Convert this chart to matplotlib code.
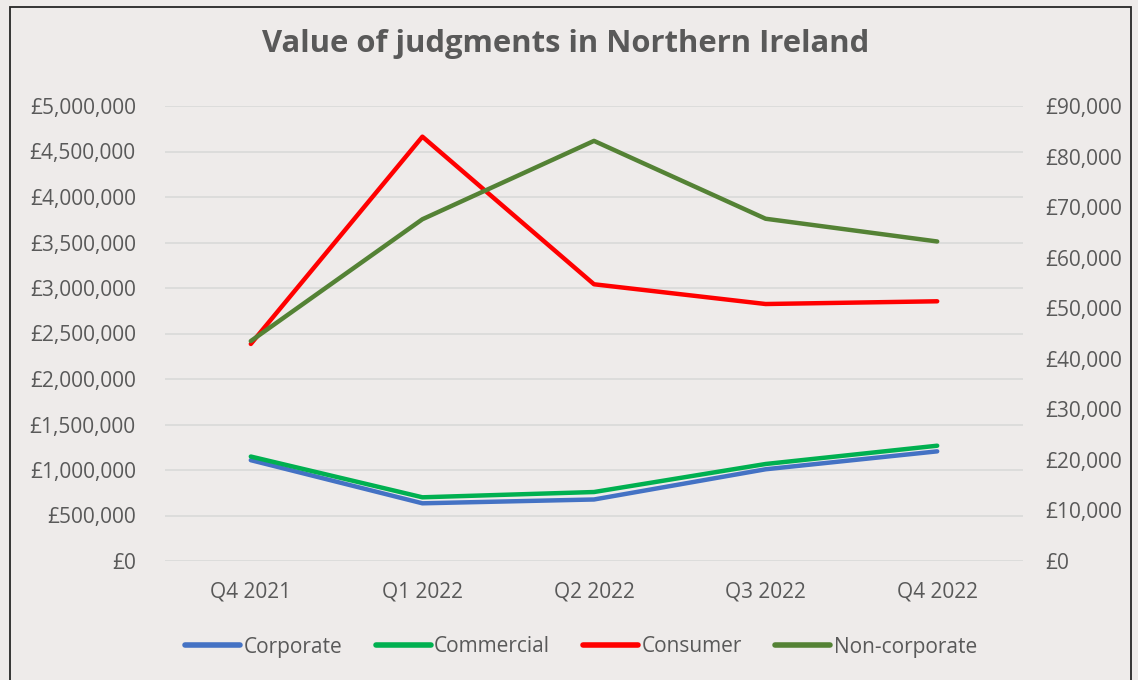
import matplotlib
matplotlib.use("Agg")
import matplotlib.pyplot as plt
from matplotlib.ticker import FuncFormatter, MultipleLocator
from matplotlib.patches import Rectangle

quarters = ["Q4 2021", "Q1 2022", "Q2 2022", "Q3 2022", "Q4 2022"]
corporate = [1108000, 634000, 676000, 1008000, 1205000]
commercial = [1148000, 700000, 758000, 1066000, 1267000]
consumer = [2385000, 4663000, 3041000, 2824000, 2854000]
non_corporate = [43500, 67600, 83100, 67700, 63200]  # secondary axis

BG = "#EEEBEA"
TXT = "#595959"
GRID = "#D9D9D9"
FONT = "Open Sans"

plt.rcParams["font.family"] = [FONT, "DejaVu Sans"]

fig = plt.figure(figsize=(11.38, 6.8), dpi=100, facecolor=BG)
ax = fig.add_axes([165/1138, 1-561/680, (1023-165)/1138, (561-106)/680])
ax.set_facecolor(BG)
ax2 = ax.twinx()

x = list(range(len(quarters)))
lw = 3.2
l1, = ax.plot(x, corporate, color="#4472C4", lw=lw, solid_capstyle="round", solid_joinstyle="round", label="Corporate")
l2, = ax.plot(x, commercial, color="#00B050", lw=lw, solid_capstyle="round", solid_joinstyle="round", label="Commercial")
l3, = ax.plot(x, consumer, color="#FF0000", lw=lw, solid_capstyle="round", solid_joinstyle="round", label="Consumer")
l4, = ax2.plot(x, non_corporate, color="#548235", lw=lw, solid_capstyle="round", solid_joinstyle="round", label="Non-corporate")

ax.set_xlim(-0.5, len(quarters) - 0.5)
ax.set_ylim(0, 5000000)
ax2.set_ylim(0, 90000)
ax.yaxis.set_major_locator(MultipleLocator(500000))
ax2.yaxis.set_major_locator(MultipleLocator(10000))
fmt = FuncFormatter(lambda v, p: "£{:,.0f}".format(v))
ax.yaxis.set_major_formatter(fmt)
ax2.yaxis.set_major_formatter(fmt)
ax.set_xticks(x)
ax.set_xticklabels(quarters)

for a in (ax, ax2):
    for s in a.spines.values():
        s.set_visible(False)
ax.tick_params(axis="y", length=0, pad=21, labelsize=15, labelcolor=TXT)
ax2.tick_params(axis="y", length=0, pad=16, labelsize=15, labelcolor=TXT)
ax.tick_params(axis="x", length=0, pad=15, labelsize=15, labelcolor=TXT)

ax.grid(axis="y", color=GRID, lw=1.2)
ax.set_axisbelow(True)

fig.text(566/1138, 1-44/680, "Value of judgments in Northern Ireland", ha="center", va="center",
         fontsize=22.3, fontweight="bold", color=TXT)

leg = fig.legend(handles=[l1, l2, l3, l4], loc="center", bbox_to_anchor=(581/1138, 1-647/680),
                 ncol=4, frameon=False, fontsize=15, handlelength=2.65, handletextpad=0.15,
                 columnspacing=1.6, labelcolor=TXT)
for line in leg.get_lines():
    line.set_linewidth(4)

fig.patches.append(Rectangle((10/1138, -0.05), (1131-10)/1138, 1.05 - 7/680, transform=fig.transFigure,
                             fill=False, edgecolor="#262626", lw=1.3, clip_on=False))

fig.savefig("out.png", dpi=100, facecolor=BG)
